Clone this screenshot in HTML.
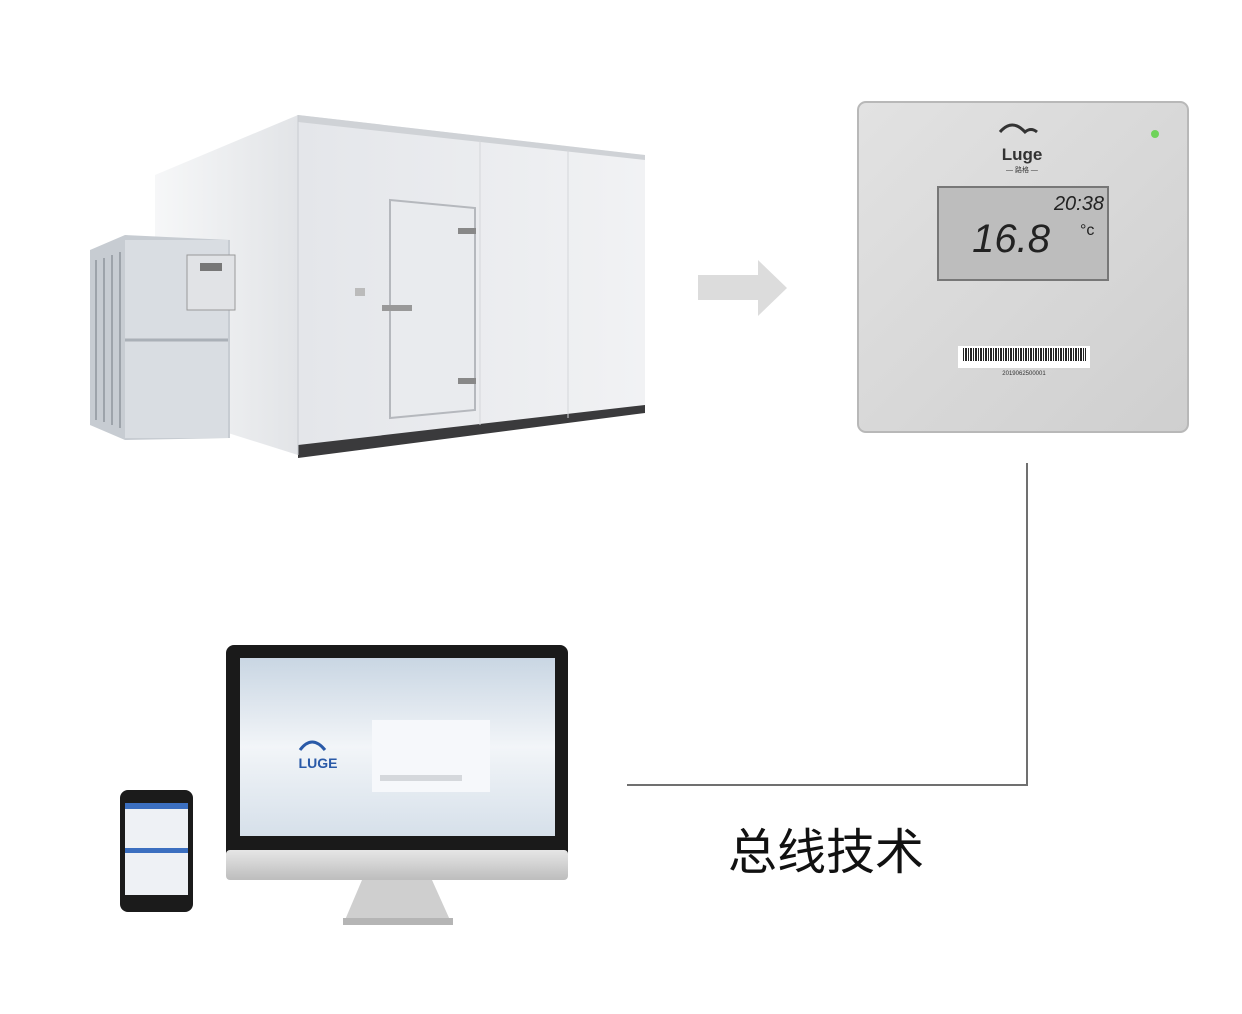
<!DOCTYPE html>
<html><head><meta charset="utf-8"><style>
html,body{margin:0;padding:0;background:#fff;}
svg{display:block}
</style></head><body>
<svg width="1242" height="1014" viewBox="0 0 1242 1014" xmlns="http://www.w3.org/2000/svg" font-family="Liberation Sans, Noto Sans CJK SC, sans-serif">
<defs>
<linearGradient id="wall" x1="0" y1="0" x2="1" y2="0"><stop offset="0" stop-color="#e4e6ea"/><stop offset="1" stop-color="#f1f2f4"/></linearGradient>
<linearGradient id="side" x1="0" y1="0" x2="1" y2="0"><stop offset="0" stop-color="#f6f7f8"/><stop offset="1" stop-color="#e2e4e7"/></linearGradient>
<linearGradient id="dev" x1="0" y1="0" x2="1" y2="1"><stop offset="0" stop-color="#e2e2e2"/><stop offset="1" stop-color="#cfcfcf"/></linearGradient>
<linearGradient id="scr" x1="0" y1="0" x2="0" y2="1"><stop offset="0" stop-color="#c9d6e3"/><stop offset="0.5" stop-color="#f2f5f8"/><stop offset="1" stop-color="#d6e0ea"/></linearGradient>
<linearGradient id="silver" x1="0" y1="0" x2="0" y2="1"><stop offset="0" stop-color="#e6e6e6"/><stop offset="1" stop-color="#bdbdbd"/></linearGradient>
<pattern id="bc" width="5" height="13" patternUnits="userSpaceOnUse"><rect width="2" height="13" fill="#222"/><rect x="3" width="1" height="13" fill="#222"/></pattern>
</defs>
<polygon points="155,175 298,115 298,455 155,410" fill="url(#side)"/>
<polygon points="298,115 645,155 645,410 298,445" fill="url(#wall)"/>
<polygon points="298,115 645,155 645,160 298,122" fill="#cfd2d6"/>
<polygon points="298,445 645,405 645,413 298,458" fill="#3a3a3c"/>
<line x1="298" y1="115" x2="298" y2="455" stroke="#c8cbd0"/>
<line x1="480" y1="140" x2="480" y2="425" stroke="#d4d6da"/>
<line x1="568" y1="150" x2="568" y2="418" stroke="#d4d6da"/>
<polygon points="390,200 475,208 475,410 390,418" fill="#e9ebee" stroke="#b5b8bd" stroke-width="2"/>
<rect x="458" y="228" width="18" height="6" fill="#888"/>
<rect x="458" y="378" width="18" height="6" fill="#888"/>
<rect x="382" y="305" width="30" height="6" fill="#999"/>
<rect x="355" y="288" width="10" height="8" fill="#bbb"/>
<polygon points="90,250 125,235 230,240 230,438 125,440 90,425" fill="#c7ccd2"/>
<rect x="125" y="240" width="103" height="198" fill="#d9dde2"/>
<g stroke="#9da3aa" stroke-width="2">
<line x1="96" y1="260" x2="96" y2="420"/><line x1="104" y1="258" x2="104" y2="422"/><line x1="112" y1="255" x2="112" y2="425"/><line x1="120" y1="252" x2="120" y2="428"/>
</g>
<line x1="125" y1="340" x2="228" y2="340" stroke="#aab0b7" stroke-width="3"/>
<rect x="187" y="255" width="48" height="55" fill="#e1e3e6" stroke="#999"/>
<rect x="200" y="263" width="22" height="8" fill="#777"/>
<polygon points="698,275 758,275 758,260 787,288 758,316 758,300 698,300" fill="#dcdcdc"/>
<rect x="858" y="102" width="330" height="330" rx="8" fill="url(#dev)" stroke="#b8b8b8" stroke-width="2"/>
<circle cx="1155" cy="134" r="4" fill="#6fd35a"/>
<path d="M1000,132 q12,-14 25,0 q6,-5 12,0" fill="none" stroke="#333" stroke-width="3"/>
<text x="1022" y="160" text-anchor="middle" font-size="17" font-weight="bold" fill="#333">Luge</text>
<text x="1022" y="172" text-anchor="middle" font-size="7" fill="#333">— 路格 —</text>
<rect x="938" y="187" width="170" height="93" fill="#bdbdbd" stroke="#777" stroke-width="2"/>
<text x="1104" y="210" text-anchor="end" font-size="20" fill="#222" font-style="italic">20:38</text>
<text x="1050" y="252" text-anchor="end" font-size="40" fill="#222" font-style="italic">16.8</text>
<text x="1080" y="235" font-size="16" fill="#222">°c</text>
<rect x="958" y="346" width="132" height="22" fill="#fff"/>
<rect x="962" y="348" width="124" height="13" fill="url(#bc)"/>
<text x="1024" y="375" text-anchor="middle" font-size="6" fill="#333">2019062500001</text>
<polyline points="1027,463 1027,785 627,785" fill="none" stroke="#707070" stroke-width="2"/>
<text x="728" y="869" font-size="49" fill="#111">总线技术</text>
<rect x="226" y="645" width="342" height="215" rx="8" fill="#1a1a1a"/>
<rect x="240" y="658" width="315" height="178" fill="url(#scr)"/>
<rect x="226" y="850" width="342" height="30" rx="4" fill="url(#silver)"/>
<polygon points="362,880 432,880 450,920 345,920" fill="#cfcfcf"/>
<rect x="343" y="918" width="110" height="7" fill="#b5b5b5"/>
<path d="M300,750 q12,-16 25,0" fill="none" stroke="#2a5aa8" stroke-width="3"/>
<text x="318" y="768" text-anchor="middle" font-size="14" font-weight="bold" fill="#2a5aa8">LUGE</text>
<rect x="372" y="720" width="118" height="72" fill="#f6f8fb"/>
<rect x="380" y="775" width="82" height="6" fill="#d5d8dc"/>
<rect x="120" y="790" width="73" height="122" rx="8" fill="#1b1b1b"/>
<rect x="125" y="803" width="63" height="92" fill="#eef1f5"/>
<rect x="125" y="803" width="63" height="6" fill="#3b6fc0"/>
<rect x="125" y="848" width="63" height="5" fill="#3b6fc0"/>
</svg>
</body></html>
